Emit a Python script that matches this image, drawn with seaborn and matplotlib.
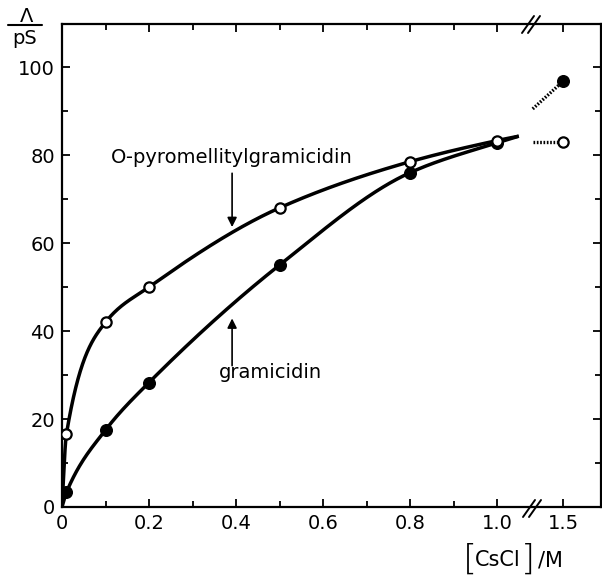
import numpy as np
import pandas as pd
import seaborn as sns
import matplotlib.pyplot as plt
from matplotlib.lines import Line2D

# measured points
conc = [0.01, 0.1, 0.2, 0.5, 0.8, 1.0]
pyro_cond = [16.5, 42, 50, 68, 78.5, 83.3]
gram_cond = [3.3, 17.5, 28.3, 55, 76, 82.8]

# values at 1.5 M (right of the axis break)
far_conc = [1.1, 1.5]
pyro_far = [83, 83]
gram_far = [90.5, 96.8]

# ends of the drawn curves
curve_start = (0.0, 0.0)
curve_end_x = 1.05
curve_end_y = 84.3

x_ticks = [0, 0.2, 0.4, 0.6, 0.8, 1.0, 1.5]
x_tick_labels = ["0", "0.2", "0.4", "0.6", "0.8", "1.0", "1.5"]
y_ticks = [0, 20, 40, 60, 80, 100]


def xpos(v):
    # broken axis: beyond the break 1.5 M sits at 1.152
    v = np.asarray(v, dtype=float)
    return np.where(v > 1.08, 1.152 + (v - 1.5) * 0.175, v)


def pchip(x, y, xs):
    x = np.asarray(x, float)
    y = np.asarray(y, float)
    h = np.diff(x)
    d = np.diff(y) / h
    m = np.zeros_like(y)
    m[0], m[-1] = d[0], d[-1]
    for k in range(1, len(x) - 1):
        if d[k - 1] * d[k] > 0:
            w1 = 2 * h[k] + h[k - 1]
            w2 = h[k] + 2 * h[k - 1]
            m[k] = (w1 + w2) / (w1 / d[k - 1] + w2 / d[k])
    idx = np.clip(np.searchsorted(x, xs) - 1, 0, len(x) - 2)
    t = (xs - x[idx]) / h[idx]
    h00 = 2 * t**3 - 3 * t**2 + 1
    h10 = t**3 - 2 * t**2 + t
    h01 = -2 * t**3 + 3 * t**2
    h11 = t**3 - t**2
    return h00 * y[idx] + h10 * h[idx] * m[idx] + h01 * y[idx + 1] + h11 * h[idx] * m[idx + 1]


sns.set_style("ticks", {"axes.edgecolor": "black", "text.color": "black",
                        "xtick.color": "black", "ytick.color": "black"})
plt.rcParams["font.family"] = ["DejaVu Sans"]

fig = plt.figure(figsize=(6.02, 5.83), dpi=100)
W, H = 602, 583
ax = fig.add_axes([62 / W, 1 - 507 / H, 539 / W, (507 - 24) / H])

xs = np.linspace(0, curve_end_x, 600)
for vals in (pyro_cond, gram_cond):
    kx = [curve_start[0]] + conc + [curve_end_x]
    ky = [curve_start[1]] + vals + [curve_end_y]
    ax.plot(xs, pchip(kx, ky, xs), color="black", lw=2.5, solid_capstyle="butt", zorder=2)

# dotted pieces after the break
far = pd.DataFrame({"x": np.concatenate([xpos(far_conc)] * 2),
                    "y": pyro_far + gram_far,
                    "s": ["pyro"] * 2 + ["gram"] * 2})
sns.lineplot(data=far, x="x", y="y", units="s", estimator=None, color="black",
             lw=2.4, ls=(0, (0.5, 0.5)), ax=ax, zorder=2)

pts_x = list(xpos(conc)) + [float(xpos(1.5))]
sns.scatterplot(x=pts_x, y=gram_cond + [gram_far[-1]], color="black", s=70,
                edgecolor="black", linewidth=1, ax=ax, zorder=3)
sns.scatterplot(x=pts_x, y=pyro_cond + [pyro_far[-1]], color="white", s=55,
                edgecolor="black", linewidth=1.6, ax=ax, zorder=4)

ax.set_xlim(0, 1.239)
ax.set_ylim(0, 109.8)
ax.set_xticks(xpos(x_ticks))
ax.set_xticklabels(x_tick_labels)
ax.set_xticks([0.1, 0.3, 0.5, 0.7, 0.9], minor=True)
ax.set_yticks(y_ticks)
ax.set_yticks(np.arange(10, 110, 20), minor=True)
ax.tick_params(which="both", direction="in", top=True, right=True, width=1.3,
               labelsize=14, pad=5, colors="black")
ax.tick_params(which="major", length=5.5)
ax.tick_params(which="minor", length=4.5)
ax.set_xlabel("")
ax.set_ylabel("")
for sp in ax.spines.values():
    sp.set_linewidth(1.6)
    sp.set_color("black")

# axis break marks
for (x0, y0) in [(523, 517), (522, 33)]:
    for dx in (0, 6):
        fig.add_artist(Line2D([(x0 + dx) / W, (x0 + dx + 12) / W],
                              [1 - y0 / H, 1 - (y0 - 17) / H],
                              color="black", lw=1.4))

# annotations
ax.text(0.391, 79.5, "O-pyromellitylgramicidin", ha="center", va="center",
        fontsize=14, color="black")
ax.annotate("", xy=(0.391, 63), xytext=(0.391, 76.5),
            arrowprops=dict(arrowstyle="-|>", color="black", lw=1.2, mutation_scale=14))
ax.text(0.48, 30.5, "gramicidin", ha="center", va="center", fontsize=14, color="black")
ax.annotate("", xy=(0.391, 43.5), xytext=(0.391, 31.5),
            arrowprops=dict(arrowstyle="-|>", color="black", lw=1.2, mutation_scale=14))

# y label as a fraction
fig.text(27 / W, 1 - 17 / H, "Λ", ha="center", va="center", fontsize=14)
fig.add_artist(Line2D([8 / W, 42 / W], [1 - 25 / H, 1 - 25 / H], color="black", lw=1.5))
fig.text(25 / W, 1 - 38 / H, "pS", ha="center", va="center", fontsize=14)

# x label with tall brackets
fig.text(470 / W, 1 - 560 / H, "[", ha="center", va="center", fontsize=26, fontweight="light")
fig.text(498 / W, 1 - 560 / H, "CsCl", ha="center", va="center", fontsize=15)
fig.text(528 / W, 1 - 560 / H, "]", ha="center", va="center", fontsize=26, fontweight="light")
fig.text(550 / W, 1 - 560 / H, "/M", ha="center", va="center", fontsize=15)

fig.savefig("out.png", dpi=100)
